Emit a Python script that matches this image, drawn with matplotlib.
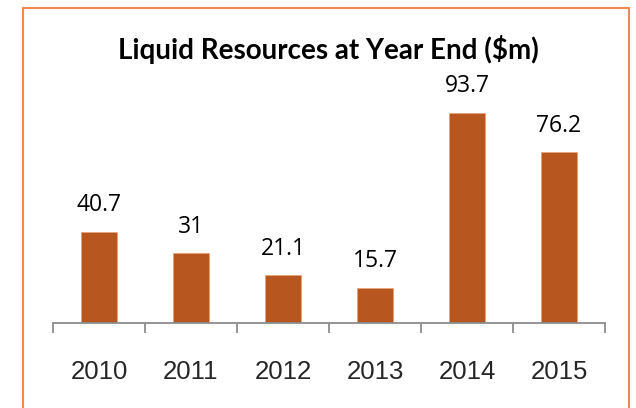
"""Liquid resources at year end — bar chart recreation."""
import matplotlib
matplotlib.use("Agg")
import matplotlib.pyplot as plt
from matplotlib.patches import Rectangle

years = ["2010", "2011", "2012", "2013", "2014", "2015"]
liquid_resources = [40.7, 31, 21.1, 15.7, 93.7, 76.2]
value_labels = ["40.7", "31", "21.1", "15.7", "93.7", "76.2"]

BAR = "#B7561F"
FRAME = "#EE8A4E"
W, H = 636, 408

fig = plt.figure(figsize=(W / 100, H / 100), dpi=100)
fig.patch.set_facecolor("white")

# outer chart frame (bottom edge runs off the image)
fig.patches.append(Rectangle((23 / W, -0.05), (629 - 23) / W, 1.05 - 8 / H,
                             transform=fig.transFigure, fill=False,
                             edgecolor=FRAME, linewidth=1.5))

ax = fig.add_axes([53 / W, 1 - 322.7 / H, 552 / W, (322.7 - 90) / H])
x = range(len(years))
bars = ax.bar(x, liquid_resources, width=0.4, color=BAR,
              edgecolor="#E9A17A", linewidth=0.6)
ax.set_xlim(-0.5, len(years) - 0.5)
ax.set_ylim(0, 104)

for rect, lab in zip(bars, value_labels):
    ax.annotate(lab, (rect.get_x() + rect.get_width() / 2, rect.get_height()),
                xytext=(0, 10.5), textcoords="offset points", ha="center", va="bottom",
                fontsize=16.5, family="Open Sans", color="black")

for s in ("left", "right", "top"):
    ax.spines[s].set_visible(False)
ax.spines["bottom"].set_color("#8C8C8C")
ax.spines["bottom"].set_linewidth(1.3)
ax.set_yticks([])

# ticks sit between the categories, labels in the middle
ax.set_xticks([i - 0.5 for i in range(len(years) + 1)], minor=False)
ax.set_xticklabels([])
ax.tick_params(axis="x", length=7, width=1.3, color="#8C8C8C", direction="out")
for i, yr in enumerate(years):
    ax.text(i, -0.21, yr, transform=ax.get_xaxis_transform(), ha="center", va="center",
            fontsize=18.5, family=["Liberation Sans", "DejaVu Sans"], color="#262626")

fig.text(328 / W, 1 - 50 / H, "Liquid Resources at Year End ($m)", ha="center",
         va="center", fontsize=20, fontweight="bold", family="Lato", color="black")

fig.savefig("out.png", dpi=100)
